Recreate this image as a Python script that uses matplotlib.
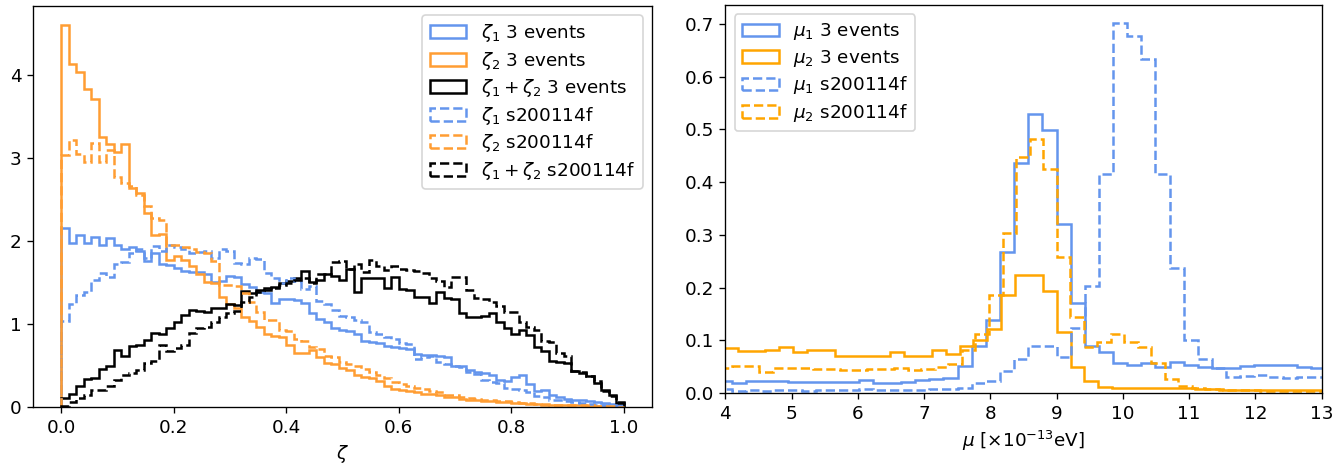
# -*- coding: utf-8 -*-
import matplotlib
matplotlib.use("Agg")
import matplotlib.pyplot as plt
import numpy as np

# ---- left panel: zeta posteriors, 75 bins on [0, 1] ----
zeta_range = (0.0, 1.0)
zeta_nbins = 75

zeta1_3ev = [2.16, 1.98, 2.08, 1.98, 2.05, 1.95, 2.04, 1.95, 1.90, 1.93, 1.88, 1.76, 1.86, 1.72, 1.71, 1.68, 1.64, 1.63,
             1.63, 1.60, 1.51, 1.52, 1.58, 1.57, 1.48, 1.45, 1.39, 1.38, 1.26, 1.30, 1.30, 1.29, 1.25, 1.13, 1.06, 1.03, 0.95,
             0.93, 0.92, 0.88, 0.80, 0.78, 0.77, 0.74, 0.72, 0.71, 0.70, 0.64, 0.63, 0.63, 0.62, 0.60, 0.50, 0.49, 0.45, 0.42, 0.41,
             0.38, 0.33, 0.31, 0.36, 0.38, 0.28, 0.19, 0.20, 0.14, 0.12, 0.10, 0.09, 0.08, 0.07, 0.06, 0.05, 0.04, 0.02]
zeta2_3ev = [4.61, 4.14, 4.04, 3.84, 3.71, 3.26, 3.17, 3.07, 3.17, 2.64, 2.58, 2.34, 2.08, 2.09, 1.77, 1.82, 1.77, 1.70,
             1.61, 1.51, 1.50, 1.33, 1.24, 1.20, 1.09, 1.04, 0.96, 0.88, 0.86, 0.84, 0.75, 0.65, 0.65, 0.69, 0.60, 0.53, 0.52,
             0.47, 0.45, 0.38, 0.36, 0.35, 0.31, 0.25, 0.22, 0.21, 0.19, 0.18, 0.16, 0.16, 0.14, 0.12, 0.12, 0.10, 0.09, 0.08, 0.07,
             0.07, 0.06, 0.06, 0.05, 0.05, 0.04, 0.04, 0.03, 0.03, 0.03, 0.02, 0.02, 0.02, 0.01, 0.01, 0.01, 0.005, 0.003]
zetasum_3ev = [0.11, 0.16, 0.25, 0.34, 0.35, 0.46, 0.50, 0.69, 0.61, 0.73, 0.75, 0.81, 0.89, 0.88, 0.95, 1.03, 1.11, 1.17,
               1.16, 1.15, 1.19, 1.20, 1.24, 1.23, 1.40, 1.38, 1.41, 1.43, 1.45, 1.50, 1.52, 1.55, 1.64, 1.51, 1.53, 1.61, 1.58,
               1.53, 1.67, 1.39, 1.55, 1.55, 1.55, 1.44, 1.57, 1.42, 1.41, 1.33, 1.33, 1.25, 1.39, 1.31, 1.30, 1.13, 1.08, 1.08,
               1.10, 1.13, 1.02, 0.95, 0.88, 0.93, 0.87, 0.72, 0.67, 0.55, 0.54, 0.53, 0.43, 0.41, 0.37, 0.29, 0.20, 0.14, 0.05]
zeta1_s200114f = [1.04, 1.24, 1.35, 1.39, 1.53, 1.62, 1.57, 1.73, 1.75, 1.86, 1.91, 1.80, 1.94, 1.88, 1.95, 1.93, 1.90, 1.86,
                  1.87, 1.88, 1.80, 1.90, 1.88, 1.74, 1.72, 1.80, 1.79, 1.62, 1.55, 1.50, 1.56, 1.52, 1.42, 1.46, 1.28, 1.24, 1.17,
                  1.10, 1.08, 1.05, 1.02, 0.90, 0.88, 0.85, 0.82, 0.77, 0.76, 0.58, 0.60, 0.62, 0.54, 0.52, 0.49, 0.48, 0.42, 0.40, 0.32,
                  0.30, 0.29, 0.23, 0.22, 0.20, 0.18, 0.13, 0.12, 0.09, 0.08, 0.07, 0.06, 0.05, 0.04, 0.03, 0.03, 0.02, 0.01]
zeta2_s200114f = [3.04, 3.22, 3.05, 2.96, 3.19, 2.95, 3.10, 2.78, 2.70, 2.66, 2.56, 2.42, 2.28, 2.26, 1.96, 1.95, 1.93, 1.90,
                  1.87, 1.86, 1.76, 1.47, 1.47, 1.46, 1.37, 1.27, 1.15, 1.05, 1.05, 0.93, 0.92, 0.82, 0.80, 0.72, 0.70, 0.61, 0.60,
                  0.54, 0.52, 0.50, 0.46, 0.42, 0.38, 0.35, 0.30, 0.28, 0.25, 0.23, 0.22, 0.19, 0.18, 0.15, 0.14, 0.12, 0.11, 0.10, 0.09,
                  0.08, 0.07, 0.07, 0.06, 0.05, 0.05, 0.04, 0.04, 0.03, 0.03, 0.03, 0.02, 0.02, 0.02, 0.01, 0.01, 0.01, 0.005]
zetasum_s200114f = [0.01, 0.06, 0.11, 0.15, 0.20, 0.20, 0.25, 0.33, 0.38, 0.41, 0.45, 0.53, 0.55, 0.75, 0.67, 0.71, 0.75, 0.89,
                    0.95, 0.97, 1.03, 1.08, 1.13, 1.16, 1.27, 1.33, 1.39, 1.41, 1.44, 1.47, 1.50, 1.53, 1.55, 1.49, 1.61, 1.60, 1.75,
                    1.76, 1.67, 1.72, 1.63, 1.77, 1.70, 1.65, 1.70, 1.66, 1.65, 1.64, 1.62, 1.55, 1.52, 1.45, 1.57, 1.57, 1.41, 1.31,
                    1.30, 1.27, 1.22, 1.15, 1.14, 1.03, 0.97, 0.93, 0.80, 0.79, 0.65, 0.61, 0.43, 0.42, 0.37, 0.31, 0.19, 0.13, 0.06]

# ---- right panel: mu posteriors, each histogram has its own binning ----
mu1_range, mu1_nbins = (3.88, 13.05), 43
mu2_3ev_range, mu2_3ev_nbins = (3.977, 13.186), 44
mu2_s2_range, mu2_s2_nbins = (3.895, 13.084), 45

mu1_3ev = [0.023, 0.019, 0.022, 0.022, 0.022, 0.021, 0.020, 0.020, 0.021, 0.021, 0.025, 0.018, 0.019, 0.020,
           0.025, 0.026, 0.028, 0.051, 0.090, 0.138, 0.267,
           0.437, 0.530, 0.498, 0.321, 0.170, 0.090, 0.077, 0.057, 0.053, 0.057, 0.050, 0.058, 0.053, 0.050, 0.048,
           0.047, 0.052, 0.054, 0.054, 0.054, 0.050, 0.048]
mu1_s200114f = [0.007, 0.004, 0.005, 0.004, 0.005, 0.005, 0.004, 0.005, 0.005, 0.006, 0.007, 0.005, 0.005, 0.006, 0.006, 0.007,
                0.007, 0.009, 0.018, 0.023, 0.042, 0.064, 0.089, 0.089, 0.069, 0.123, 0.202, 0.416,
                0.701, 0.677, 0.634, 0.415, 0.237, 0.100, 0.064, 0.048, 0.031, 0.032, 0.034, 0.031, 0.028, 0.030, 0.031]
mu2_3ev = [0.085, 0.080, 0.080, 0.081, 0.087, 0.077, 0.081, 0.082, 0.071, 0.071, 0.071, 0.071, 0.077, 0.071, 0.071, 0.081, 0.074,
           0.090, 0.100, 0.121, 0.186, 0.223, 0.224, 0.193, 0.116, 0.050, 0.022, 0.012,
           0.009, 0.009, 0.009, 0.009, 0.010, 0.009, 0.008, 0.007, 0.006, 0.005, 0.005, 0.005, 0.006, 0.006, 0.005, 0.006]
mu2_s200114f = [0.047, 0.051, 0.051, 0.039, 0.047, 0.047, 0.047, 0.046, 0.045, 0.043, 0.044, 0.045, 0.045, 0.047, 0.044, 0.046, 0.049,
                0.055, 0.082, 0.111, 0.186, 0.304, 0.447, 0.481, 0.424, 0.258, 0.145, 0.088, 0.097, 0.111, 0.096, 0.088, 0.056,
                0.027, 0.014,
                0.009, 0.007, 0.006, 0.005, 0.005, 0.004, 0.004, 0.004, 0.004, 0.004]

mu_ticks = [4, 5, 6, 7, 8, 9, 10, 11, 12, 13]

BLUE = "cornflowerblue"
ORANGE_L = "#ff9d33"
ORANGE_R = "orange"

plt.rcParams["font.size"] = 11
plt.rcParams["legend.labelspacing"] = 0.3


def step_hist(ax, values, rng, nbins, **kw):
    # pre-binned values -> step histogram (keeps the rectangle legend handles)
    edges = np.linspace(rng[0], rng[1], nbins + 1)
    centers = 0.5 * (edges[:-1] + edges[1:])
    ax.hist(centers, bins=edges, weights=values, histtype="step", linewidth=1.5, **kw)


DPI = 120
fig = plt.figure(figsize=(1343 / DPI, 466 / DPI), dpi=DPI)
ax1 = fig.add_axes([0.0248, 0.1266, 0.4605, 0.8612])
ax2 = fig.add_axes([0.5401, 0.1567, 0.4440, 0.8326])

step_hist(ax1, zeta1_3ev, zeta_range, zeta_nbins, color=BLUE, label=r"$\zeta_1$ 3 events")
step_hist(ax1, zeta2_3ev, zeta_range, zeta_nbins, color=ORANGE_L, label=r"$\zeta_2$ 3 events")
step_hist(ax1, zetasum_3ev, zeta_range, zeta_nbins, color="black", label=r"$\zeta_1+\zeta_2$ 3 events")
step_hist(ax1, zeta1_s200114f, zeta_range, zeta_nbins, color=BLUE, linestyle="--", label=r"$\zeta_1$ s200114f")
step_hist(ax1, zeta2_s200114f, zeta_range, zeta_nbins, color=ORANGE_L, linestyle="--", label=r"$\zeta_2$ s200114f")
step_hist(ax1, zetasum_s200114f, zeta_range, zeta_nbins, color="black", linestyle="--",
          label=r"$\zeta_1+\zeta_2$ s200114f")
ax1.set_xlabel(r"$\zeta$")
ax1.legend(loc="upper right")

step_hist(ax2, mu1_3ev, mu1_range, mu1_nbins, color=BLUE, label=r"$\mu_1$ 3 events")
step_hist(ax2, mu2_3ev, mu2_3ev_range, mu2_3ev_nbins, color=ORANGE_R, label=r"$\mu_2$ 3 events")
step_hist(ax2, mu1_s200114f, mu1_range, mu1_nbins, color=BLUE, linestyle="--", label=r"$\mu_1$ s200114f")
step_hist(ax2, mu2_s200114f, mu2_s2_range, mu2_s2_nbins, color=ORANGE_R, linestyle="--", label=r"$\mu_2$ s200114f")
ax2.set_xlim(4, 13)
ax2.set_xticks(mu_ticks)
ax2.set_xlabel(r"$\mu$ [$\times10^{-13}$eV]")
ax2.legend(loc="upper left")

fig.savefig("out.png", dpi=DPI)
